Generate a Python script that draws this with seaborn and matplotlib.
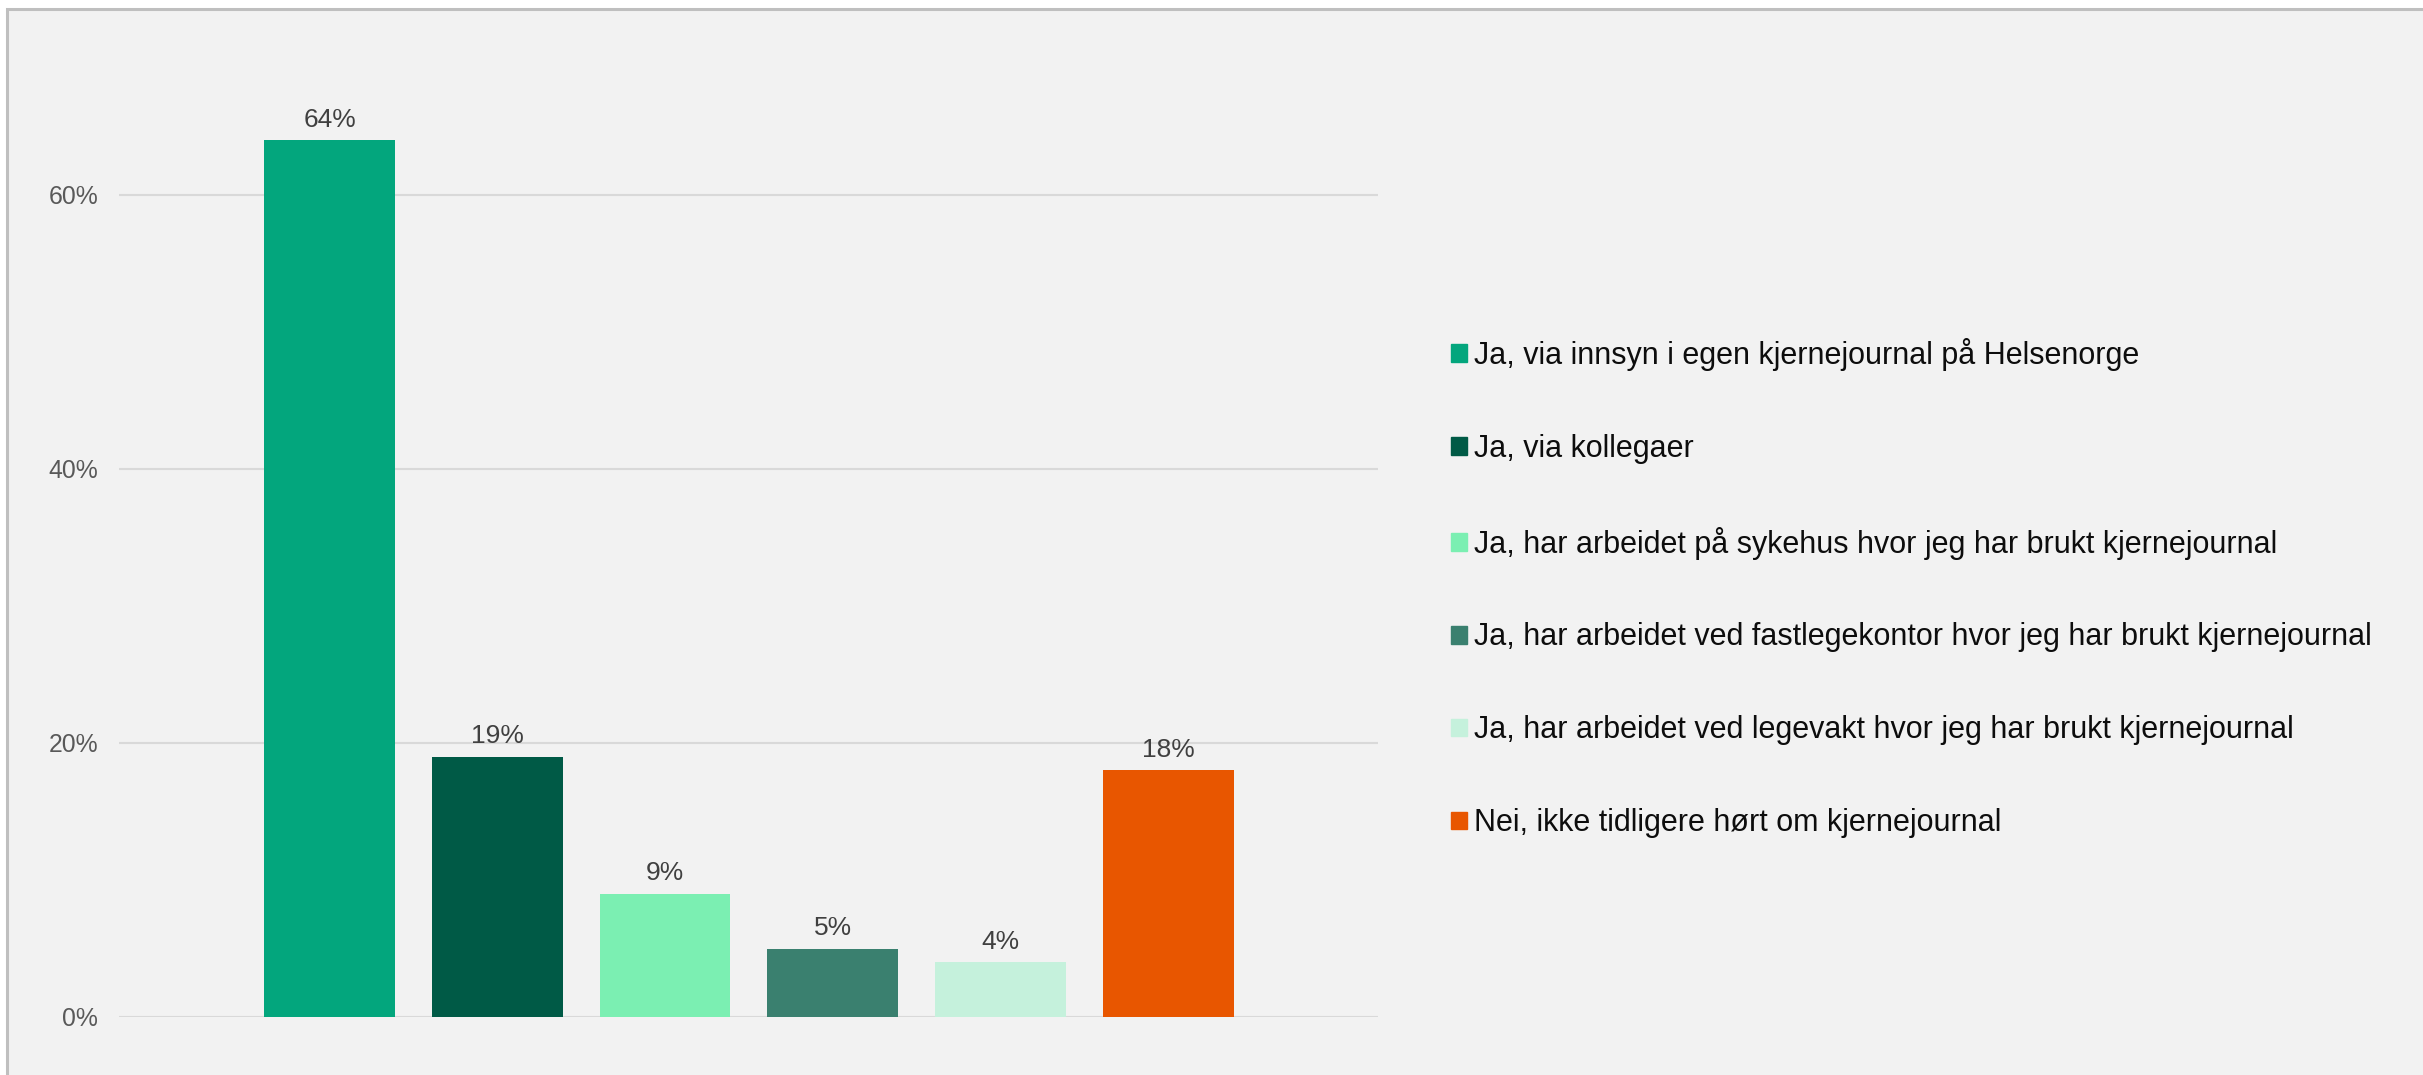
import pandas as pd
import matplotlib.pyplot as plt
import matplotlib.patches as mpatches
import seaborn as sns

# --- Data ---
answers = [
    'Ja, via innsyn i egen kjernejournal på Helsenorge',
    'Ja, via kollegaer',
    'Ja, har arbeidet på sykehus hvor jeg har brukt kjernejournal',
    'Ja, har arbeidet ved fastlegekontor hvor jeg har brukt kjernejournal',
    'Ja, har arbeidet ved legevakt hvor jeg har brukt kjernejournal',
    'Nei, ikke tidligere hørt om kjernejournal',
]
shares = [0.64, 0.19, 0.09, 0.05, 0.04, 0.18]
bar_colors = ['#03A67D', '#005A46', '#7BEFB2', '#3A806F', '#C5F1DC', '#E85600']
y_ticks = [0, 0.2, 0.4, 0.6]
y_tick_labels = ['0%', '20%', '40%', '60%']

df = pd.DataFrame({'answer': answers, 'share': shares})

# --- Style ---
sns.set_style('white')
plt.rcParams['font.family'] = ['Liberation Sans', 'DejaVu Sans']

W, H = 2423, 1075
fig = plt.figure(figsize=(W / 100, H / 100), dpi=100, facecolor='white')

# grey panel with thin frame (slide background)
fig.patches.append(mpatches.Rectangle(
    (7 / W, -0.05), 1.1, 1 - 9 / H + 0.05, transform=fig.transFigure,
    facecolor='#F2F2F2', edgecolor='#BFBFBF', linewidth=2.2, zorder=-10))

ax = fig.add_axes([119 / W, 1 - 1017 / H, (1378 - 119) / W, (1017 - 58) / H])
ax.set_facecolor('none')

sns.barplot(data=df, x='answer', y='share', hue='answer', order=answers,
            hue_order=answers, palette=bar_colors, width=0.78,
            saturation=1, linewidth=0, legend=False, ax=ax, zorder=3)

# --- Axes ---
ax.set_xlim(-1.255, 6.25)
ax.set_ylim(0, 0.7)
ax.set_yticks(y_ticks)
ax.set_yticklabels(y_tick_labels)
ax.set_xticks([])
ax.set_xlabel('')
ax.set_ylabel('')
ax.tick_params(axis='y', length=0, pad=15, labelsize=17.8, labelcolor='#595959')
for s in ax.spines.values():
    s.set_visible(False)
ax.yaxis.grid(True, color='#D9D9D9', linewidth=1.5, zorder=0)
ax.set_axisbelow(True)

# value labels
for bar, v in zip(ax.patches, shares):
    ax.annotate(f'{v:.0%}', (bar.get_x() + bar.get_width() / 2, bar.get_height()),
                xytext=(0, 6), textcoords='offset points', ha='center', va='bottom',
                fontsize=19, color='#404040')

# --- Legend ---
handles = [mpatches.Patch(color=c, label=a) for a, c in zip(answers, bar_colors)]
fig.legend(handles=handles, loc='center left', bbox_to_anchor=(1451 / W, 1 - 588 / H),
           frameon=False, fontsize=22, labelspacing=2.06, handlelength=0.52,
           handleheight=0.52, handletextpad=0.23, borderpad=0, borderaxespad=0,
           labelcolor='#0D0D0D')

plt.savefig('out.png', dpi=100, facecolor='white')
